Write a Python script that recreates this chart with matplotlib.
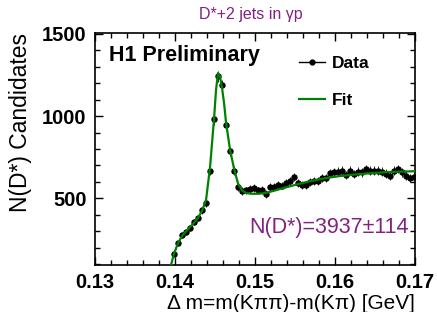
import numpy as np
import matplotlib
matplotlib.use('Agg')
import matplotlib.pyplot as plt
from matplotlib.lines import Line2D
from matplotlib.ticker import MultipleLocator

plt.rcParams['font.family'] = ['Liberation Sans', 'DejaVu Sans']

# histogram of delta m (bin width 0.5 MeV)
bin_lo = 0.13963
bin_width = 0.0005
n_cand = [161, 229, 277, 297, 321, 357, 381, 428, 472, 669, 980, 1241, 1187, 946, 785, 669, 568, 544,
          548, 558, 564, 548, 552, 528, 568, 572, 584, 578, 592, 604, 628, 592, 584, 584, 598, 604, 608,
          622, 625, 655, 658, 663, 669, 643, 669, 649, 663, 658, 679, 669, 669, 669, 663, 650, 635,
          669, 679, 658, 639, 623, 630]

# fit curve
fit_dm = [0.1395, 0.13988, 0.14038, 0.14088, 0.14138, 0.14188, 0.14238, 0.14288, 0.14338, 0.14388,
          0.14438, 0.14488, 0.14513, 0.14538, 0.14563, 0.14588, 0.14613, 0.14638, 0.14688, 0.14738,
          0.14788, 0.14838, 0.14888, 0.1495, 0.1505, 0.1515, 0.1525, 0.1535, 0.1545, 0.1555, 0.1565,
          0.1575, 0.1585, 0.1595, 0.1605, 0.1625, 0.1645, 0.1665, 0.1685, 0.1700]
fit_n = [95, 165, 228, 272, 300, 325, 352, 382, 425, 490,
         690, 985, 1160, 1262, 1240, 1170, 1080, 960, 795, 680,
         590, 548, 533, 528, 528, 535, 548, 562, 575, 588, 600,
         610, 620, 628, 635, 645, 653, 660, 663, 665]

purple = '#832083'
green = '#008000'

n = np.array(n_cand)
dm = bin_lo + bin_width * (np.arange(len(n)) + 0.5)

fig = plt.figure(figsize=(4.37, 3.12), dpi=100)
ax = fig.add_axes([0.2174, 0.1506, 0.7323, 0.7436])

ax.errorbar(dm, n, yerr=np.sqrt(n), xerr=bin_width / 2, fmt='o', color='k', ms=3.6,
            elinewidth=0.6, capsize=0, zorder=3)
ax.plot(fit_dm, fit_n, color=green, lw=1.6, zorder=4)

ax.set_xlim(0.13, 0.17)
ax.set_ylim(95, 1505)
ax.xaxis.set_major_locator(MultipleLocator(0.01))
ax.xaxis.set_minor_locator(MultipleLocator(0.002))
ax.yaxis.set_major_locator(MultipleLocator(500))
ax.yaxis.set_minor_locator(MultipleLocator(100))
ax.set_xticks([0.13, 0.14, 0.15, 0.16, 0.17])
ax.set_xticklabels(['0.13', '0.14', '0.15', '0.16', '0.17'])
ax.tick_params(which='both', direction='in', top=True, right=True, width=1)
ax.tick_params(which='major', length=6, labelsize=14.5, pad=6)
ax.tick_params(which='minor', length=3.5)
for lab in ax.get_xticklabels() + ax.get_yticklabels():
    lab.set_fontweight('bold')
for s in ax.spines.values():
    s.set_linewidth(1.2)

ax.set_xlabel('\u0394 m=m(K\u03c0\u03c0)-m(K\u03c0) [GeV]', fontsize=15, loc='right', labelpad=1)
ax.set_ylabel('N(D*) Candidates', fontsize=16.5, loc='top', labelpad=7)

fig.text(0.575, 0.955, 'D*+2 jets in \u03b3p', color=purple, fontsize=11.5, ha='center', va='center')
ax.text(0.045, 0.905, 'H1 Preliminary', transform=ax.transAxes, fontsize=15.5, fontweight='bold',
        va='center')
ax.text(0.98, 0.16, 'N(D*)=3937\u00b1114', transform=ax.transAxes, fontsize=15.5, color=purple,
        ha='right', va='center')

handles = [Line2D([], [], color='k', marker='o', ms=3.5, lw=1),
           Line2D([], [], color=green, lw=1.6)]
ax.legend(handles, ['Data', 'Fit'], loc='upper left', bbox_to_anchor=(0.61, 0.94), frameon=False,
          prop={'weight': 'bold', 'size': 12.5}, handlelength=1.5, handletextpad=0.4,
          labelspacing=1.3, borderpad=0)

fig.savefig('out.png', dpi=100)
